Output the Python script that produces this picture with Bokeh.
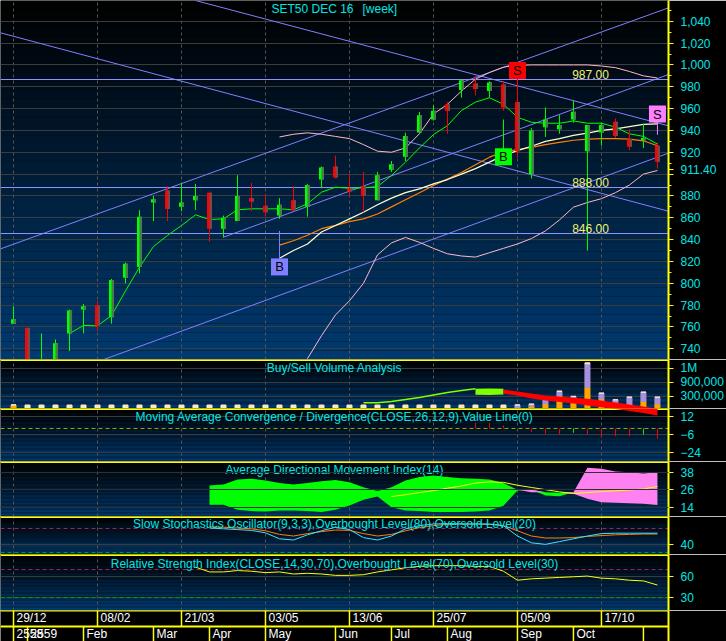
import numpy as np
from bokeh.plotting import figure
from bokeh.layouts import column
from bokeh.models import ColumnDataSource, FixedTicker, Label, NumeralTickFormatter, Range1d
from bokeh.core.properties import value
from bokeh.transform import dodge
from bokeh.embed import file_html
from bokeh.resources import INLINE

# ---------------- weekly SET50 futures, DEC 16 contract ----------------
week = list(range(47))
opens = [763, 759, 718, 726, 754, 776, 780, 769, 805, 815,
         874, 885, 870, 876, 883, 850, 857, 878, 871, 862,
         876, 870, 895, 907, 887, 889, 876, 904, 916, 938,
         950, 964, 977, 983, 976, 982, 966, 900, 943, 941,
         950, 921, 938, 948, 932, 931, 926]
highs = [779, 760, 754, 748.5, 776, 781, 784, 804, 819, 867,
         880, 889, 892, 891, 884, 862, 899, 892, 882, 878,
         889, 891, 907, 917, 900, 902, 902, 912, 938, 957,
         963, 966, 987, 990, 985, 985, 989, 942, 961, 954,
         967, 945, 947, 951, 941, 946, 929]
lows = [763, 712, 706, 722, 738, 754, 756, 763, 800, 809,
        857, 857, 866, 867, 838, 842, 857, 866, 861, 859,
        866, 861, 887, 896, 880, 865, 876, 902, 912, 938,
        949, 937, 970, 972, 970, 958, 915, 896, 934, 937,
        947, 830, 926, 933, 922, 924, 905]
closes = [767, 722, 728, 745, 775, 779, 761, 803, 818, 861,
          877, 868, 874, 880, 850, 860, 880, 875, 865, 872,
          867, 890, 906, 897, 884, 880, 899, 909, 935, 954,
          958, 958, 986, 978, 984, 961, 921, 940, 950, 945,
          957, 945, 945, 935, 925, 933, 911.4]

# moving averages / bands
ma_fast_x = list(range(4, 47))
ma_fast = [754, 761.4, 761, 770.5, 793, 814.8, 833.7, 843.8, 852.9, 862.7,
           858.4, 859, 867.3, 868.2, 868.2, 868.2, 867.3, 872.8, 883.4, 888,
           887, 887.4, 888.6, 898.7, 910.9, 924, 936.2, 944.4, 958.2, 965.9,
           969.9, 964, 952, 947.5, 946.6, 946.6, 948.7, 946.6, 946.6, 943,
           936.9, 934.5, 927.5]
long_x = list(range(19, 47))
ma_slow = [823, 830, 836, 847, 853, 859, 865, 872, 878, 883, 886.5, 891, 895, 900,
           905, 911, 917, 921.5, 925.5, 930, 932.5, 935.5, 937.5, 940, 941.5, 943.5,
           945.5, 946]
ma_mid = [835, 839, 844, 850, 853, 856.5, 859, 863.5, 870, 876.5, 883, 889.5, 895.5,
          901.5, 908.5, 915.5, 920.5, 922.5, 924.5, 927, 929, 931, 932, 932.5, 932.5,
          932, 930.5, 926]
bb_upper = [934, 936.5, 937.8, 936.5, 934.5, 932.5, 927, 921, 920, 924, 937, 955, 964,
            976, 987, 993, 998, 999.6, 1000, 1000, 1000, 1000, 1000, 999, 997.5, 994,
            990, 988]
bb_lower = [690, 712, 731, 752, 771, 784, 800, 826, 837, 842, 837.5, 832, 827, 825,
            824, 828, 832, 836, 841, 848, 858, 869.7, 874, 877.5, 883, 890, 900, 903.3]

# trend lines (week, price) -> (week, price)
trend_x0 = [-0.93, -0.93, 15.0, 13.0, -0.93]
trend_p0 = [831.5, 695.6, 842.2, 1059.0, 1029.4]
trend_x1 = [46.79, 46.79, 46.79, 46.79, 46.79]
trend_p1 = [1052.3, 919.2, 991.2, 944.2, 866.0]
levels = [987.0, 888.0, 846.0]

# buy / sell signals
sig_week = [19, 35, 36, 46]
sig_text = ["B", "B", "S", "S"]
sig_anchor = [848, 950, 988, 936]
sig_box = [815, 916, 995, 955]
sig_color = ["#8080ff", "#00ff00", "#ff0000", "#ff80ff"]

# buy/sell volume
vol_buy = [80000] + [0] * 36 + [50000, 110000, 317000, 235000, 525000, 235000, 150000,
                                110000, 175000, 110000]
vol_sell = [0] * 36 + [80000, 50000, 140000, 107000, 60000, 585000, 140000, 60000,
                       165000, 225000, 165000]
vol_flat = [0] + [80000] * 35 + [0] * 5 + [25000] + [0] * 5
bs_line_x = list(range(25, 34))
bs_line = [135000, 135000, 170000, 220000, 270000, 330000, 390000, 440000, 485000]
bs_up_x = [33, 34, 35]
bs_up_hi = [485000, 490000, 487000]
bs_up_lo = [335000, 330000, 345000]
bs_dn_x = list(range(35, 47))
bs_dn_hi = [467500, 417500, 367500, 317500, 292500, 260000, 235000, 192500, 142500,
            92500, 42500, -15000]
bs_dn_lo = [360000, 317500, 242500, 192500, 155000, 117500, 67500, 25000, -20000,
            -70000, -120000, -183000]

# MACD histogram
macd_x = [33, 34, 35, 37, 38, 39, 40, 41, 42, 43, 44, 45, 46]
macd_hist = [5.7, 5.7, 3, -3.3, -5.3, -6, -4.3, -6, -7.7, -7.7, -7.7, -6, -10]
macd_up = [False, False, False, False, False, False, True, False, False, False, False, True, False]

# ADX(14)
adx_x = list(range(14, 47))
di_plus = [28.9, 29.5, 33, 33.5, 32.3, 30.5, 29.6, 30.5, 31.8, 32.7, 31.1, 27.7, 25,
           27.7, 32.3, 34.6, 35.7, 34.6, 33.9, 33.5, 33, 30.5, 25.9, 24.3, 24.3, 23.8,
           23.2, 19.8, 17.4, 17, 16.7, 16.3, 15.5]
di_minus = [15.6, 15.6, 12.2, 11.3, 11, 11.7, 11.7, 11.3, 10.6, 12.2, 15.1, 19, 21.3,
            14, 11.7, 11.3, 10.6, 10.6, 10.6, 11, 11.7, 15, 25.5, 26, 22, 21.5,
            24.3, 41, 40.3, 38.5, 38, 37, 38]
adx_line_x = list(range(27, 47))
adx_line = [21.3, 22.5, 24, 25.3, 27, 28.5, 30.5, 31.3, 31, 29, 27.5, 26, 24.5, 23.3,
            24, 24.7, 25.2, 25.7, 26.5, 28.2]

# slow stochastics
sto_x = list(range(14, 47))
sto_k = [82, 80, 78, 76, 70, 55, 52, 65, 75, 84, 78, 58, 52, 62, 80, 88, 92, 93, 92,
         92, 92, 88, 62, 45, 41, 48, 55, 62, 68, 69, 69, 69, 69]
sto_d = [85, 84, 82, 80, 75, 66, 62, 68, 73, 77, 76, 68, 62, 66, 75, 83, 88, 91, 92,
         92, 91, 88, 75, 62, 57, 57, 58, 61, 63, 65, 66, 67, 67]

# RSI(14)
rsi_x = list(range(13, 47))
rsi = [74, 67, 67, 69, 68, 66, 67, 64, 65, 64, 62, 62, 63, 67, 70, 73, 75, 76, 76, 76,
       75, 75, 68, 55, 57, 58, 59, 60, 61, 58, 57, 55, 54, 48]

# date axis
date_ticks = [0, 6, 12, 18, 24, 30, 36, 42]
date_labels = ["29/12", "08/02", "21/03", "03/05", "13/06", "25/07", "05/09", "17/10"]
month_ticks = [0, 1, 5, 10, 14, 18, 23, 27, 31, 36, 40, 45]
month_labels = ["2558", "2559", "Feb", "Mar", "Apr", "May", "Jun", "Jul", "Aug", "Sep", "Oct", ""]

# ---------------- styling ----------------
FONT = "Liberation Sans"
X0, X1 = -0.93, 46.79
FRAME_W, AXIS_W = 668, 58
YELLOW = "#ffff00"
AXIS_TXT = "#00e6e6"
TITLE_TXT = "#00e6e6"
GRID = "#3c3c3c"
VGRID = "#555555"
TREND = "#8080ff"

xr = Range1d(X0, X1)


def panel(h, y0, y1, ticks, minor=None, overrides=None, fmt=None, grid_ticks=None):
    p = figure(frame_width=FRAME_W, frame_height=h, x_range=xr, y_range=Range1d(y0, y1),
               y_axis_location="right", toolbar_location=None, output_backend="svg",
               min_border_left=0, min_border_right=AXIS_W, min_border_top=0,
               min_border_bottom=0, background_fill_color="black",
               border_fill_color="black", outline_line_color=None, title=None)
    p.xaxis.visible = False
    p.xgrid.ticker = FixedTicker(ticks=date_ticks)
    p.xgrid.grid_line_color = VGRID
    p.xgrid.grid_line_dash = "3 3"
    p.ygrid.ticker = FixedTicker(ticks=grid_ticks or ticks)
    p.ygrid.grid_line_color = GRID
    ax = p.yaxis[0]
    ax.ticker = FixedTicker(ticks=ticks, minor_ticks=minor or [])
    if fmt:
        ax.formatter = NumeralTickFormatter(format=fmt)
    if overrides:
        ax.major_label_overrides = overrides
    ax.axis_line_color = YELLOW
    ax.axis_line_width = 2
    ax.major_tick_line_color = YELLOW
    ax.major_tick_out = 5
    ax.major_tick_in = 0
    ax.minor_tick_line_color = YELLOW
    ax.minor_tick_out = 3
    ax.minor_tick_in = 0
    ax.major_label_text_color = AXIS_TXT
    ax.major_label_text_font = FONT
    ax.major_label_text_font_size = "12px"
    ax.major_label_standoff = 7
    # vertical background gradient, black at the top to navy at the bottom
    n = 40
    edges = np.linspace(y0, y1, n + 1)
    cols = []
    for k in range(n):
        t = (k + 0.5) / n
        g = int(round(58 * (1 - t)))
        b = int(round(112 * (1 - t)))
        cols.append("#%02x%02x%02x" % (0, g, b))
    p.quad(left=X0, right=X1, bottom=edges[:-1], top=edges[1:], fill_color=cols,
           line_color=None, level="image")
    return p


def top_rule(p):
    p.hspan(y=[p.y_range.end], line_color=YELLOW, line_width=3)


def panel_title(p, text, y):
    p.add_layout(Label(x=(X0 + X1) / 2, y=y, text=text, text_align="center",
                       text_baseline="middle", text_color=TITLE_TXT, text_font=FONT,
                       text_font_size="12px"))


# ---------------- price panel ----------------
P0, P1, PRICE_H = 730.2, 1059.0, 359
price_ticks = list(range(740, 1041, 20))
# last-price tag sits just under the last close on the value axis
tag_pos = closes[-1] - 8.3 * (P1 - P0) / PRICE_H
tag_over = {t: "" for t in price_ticks if abs(t - tag_pos) < 6}
tag_over[tag_pos] = f"{closes[-1]:.2f}"
price = panel(PRICE_H, P0, P1, price_ticks + [tag_pos],
              minor=list(range(730, 1060, 10)), fmt="0,0", overrides=tag_over,
              grid_ticks=price_ticks)

for x0, p0, x1, p1 in zip(trend_x0, trend_p0, trend_x1, trend_p1):
    price.line([x0, x1], [p0, p1], line_color=TREND, line_width=1)
price.hspan(y=levels, line_color="#9090ff", line_width=1.2)

price.line(long_x, bb_upper, line_color="#ffb8c8", line_width=1)
price.line(long_x, bb_lower, line_color="#ffb8c8", line_width=1)
price.line(long_x, ma_mid, line_color="#ff8000", line_width=1.2)
price.line(long_x, ma_slow, line_color="#ffffd0", line_width=1.2)
price.line(ma_fast_x, ma_fast, line_color="#00ff00", line_width=1)

up = [c >= o for o, c in zip(opens, closes)]
csrc = ColumnDataSource(dict(
    x=week, h=highs, l=lows,
    top=[max(o, c) for o, c in zip(opens, closes)],
    bot=[min(o, c) for o, c in zip(opens, closes)],
    col=["#00ff00" if u else "#ff0000" for u in up],
    shade=["#4c7a4c" if u else "#7a4848" for u in up],
))
price.segment(x0="x", y0="l", x1="x", y1="h", line_color="col", line_width=1, source=csrc)
price.vbar(x="x", width=0.36, top="top", bottom="bot", fill_color="col", line_color=None,
           source=csrc)
price.vbar(x=dodge("x", 0.09, range=price.x_range), width=0.18, top="top", bottom="bot",
           fill_color="shade", line_color=None, source=csrc)

# signal flags
price.segment(x0=sig_week, y0=sig_anchor, x1=sig_week, y1=sig_box, line_color=sig_color,
              line_width=1)
price.rect(x=sig_week, y=sig_box, width=17, height=17, width_units="screen",
           height_units="screen", fill_color=sig_color, line_color=None)
price.text(x=sig_week, y=sig_box, text=sig_text, text_align="center",
           text_baseline="middle", text_color="black", text_font=value(FONT),
           text_font_size="13px")

for lv in levels:
    price.add_layout(Label(x=590, x_units="screen", y=lv, text=f"{lv:.2f}",
                           text_align="center", text_baseline="bottom",
                           text_color="#f0f070", text_font=FONT, text_font_size="12px"))

price.add_layout(Label(x=(X0 + X1) / 2, y=1051.6, x_offset=19, text="SET50 DEC 16",
                       text_align="right", text_baseline="middle", text_color=TITLE_TXT,
                       text_font=FONT, text_font_size="12px"))
price.add_layout(Label(x=(X0 + X1) / 2, y=1051.6, x_offset=28, text="[week]",
                       text_align="left", text_baseline="middle", text_color=TITLE_TXT,
                       text_font=FONT, text_font_size="12px"))

# ---------------- buy/sell volume ----------------
VOL0, VOL1 = -7500, 1217500
vol = panel(49, VOL0, VOL1, [300000, 650000, 1000000],
            overrides={300000: "300,000", 650000: "900,000", 1000000: "1M"})
top_rule(vol)
vsrc = ColumnDataSource(dict(x=week, buy=vol_buy, sell=vol_sell, flat=vol_flat))
vol.vbar_stack(["buy", "sell", "flat"], x="x", width=0.36,
               color=["#ffa500", "#a890e0", "#f8e8c8"], source=vsrc)
vol.line(bs_line_x, bs_line, line_color="#80ff00", line_width=1.5)
vol.varea(x=bs_up_x, y1=bs_up_lo, y2=bs_up_hi, fill_color="#80ff00")
vol.varea(x=bs_dn_x, y1=bs_dn_lo, y2=bs_dn_hi, fill_color="#ff0000")
panel_title(vol, "Buy/Sell Volume Analysis", 1005000)

# ---------------- MACD ----------------
macd = panel(53, -33, 20, [12, -6, -24])
top_rule(macd)
span_v = VOL1 - VOL0
macd.extra_y_ranges = {"vol": Range1d(VOL0 - span_v * 53 / 49, VOL0)}
macd.varea(x=bs_dn_x, y1=bs_dn_lo, y2=bs_dn_hi, fill_color="#ff0000", y_range_name="vol")
macd.hspan(y=[0], line_color="#a0a000", line_width=1, line_dash="4 3")
macd.segment(x0=macd_x, y0=[0] * len(macd_x), x1=macd_x, y1=macd_hist,
             line_color=["#00ff00" if u else "#ff0000" for u in macd_up], line_width=1)
panel_title(macd, "Moving Average Convergence / Divergence(CLOSE,26,12,9),Value Line(0)", 12)

# ---------------- ADX ----------------
adx = panel(55, 7.6, 45.3, [38, 26, 14])
adx.ygrid.level = "overlay"
adx.ygrid.grid_line_color = "#303030"
top_rule(adx)
dp = np.array(di_plus)
dm = np.array(di_minus)
adx.varea(x=adx_x, y1=dm, y2=np.maximum(dp, dm), fill_color="#00ff00")
adx.varea(x=adx_x, y1=dp, y2=np.maximum(dp, dm), fill_color="#ff80f0")
adx.line(adx_line_x, adx_line, line_color="#ffff00", line_width=1)
panel_title(adx, "Average Directional Movement Index(14)", 39.2)

# ---------------- slow stochastics ----------------
sto = panel(38, 15.75, 110.75, [40])
top_rule(sto)
sto.hspan(y=[80], line_color="#a0205a", line_width=1, line_dash="4 3")
sto.hspan(y=[20], line_color="#00a000", line_width=1, line_dash="4 3")
sto.line(sto_x, sto_d, line_color="#ff8000", line_width=1)
sto.line(sto_x, sto_k, line_color="#40e0ff", line_width=1)
panel_title(sto, "Slow Stochastics Oscillator(9,3,3),Overbought Level(80),Oversold Level(20)", 92.5)

# ---------------- RSI ----------------
rsip = panel(56, 11.2, 92.2, [60, 30])
top_rule(rsip)
rsip.hspan(y=[70], line_color="#a0205a", line_width=1, line_dash="4 3")
rsip.hspan(y=[30], line_color="#00a000", line_width=1, line_dash="4 3")
rsip.line(rsi_x, rsi, line_color="#ffff00", line_width=1)
panel_title(rsip, "Relative Strength Index(CLOSE,14,30,70),Overbought Level(70),Oversold Level(30)", 78.7)

# ---------------- date rows ----------------
dates = figure(frame_width=FRAME_W, frame_height=31, x_range=xr, y_range=Range1d(0, 2),
               y_axis_location="right", toolbar_location=None, output_backend="svg",
               min_border_left=0, min_border_right=AXIS_W, min_border_top=0,
               min_border_bottom=0, background_fill_color="black",
               border_fill_color="black", outline_line_color=None, title=None)
dates.xaxis.visible = False
dates.grid.visible = False
dax = dates.yaxis[0]
dax.ticker = FixedTicker(ticks=[])
dax.axis_line_color = YELLOW
dax.axis_line_width = 2
dates.hspan(y=[2, 1], line_color=YELLOW, line_width=2)
dates.segment(x0=date_ticks, y0=[1] * len(date_ticks), x1=date_ticks, y1=[2] * len(date_ticks),
              line_color=YELLOW, line_width=1.5)
dates.segment(x0=month_ticks, y0=[0] * len(month_ticks), x1=month_ticks,
              y1=[1] * len(month_ticks), line_color=YELLOW, line_width=1.5)
dates.text(x=date_ticks, y=[1.5] * len(date_ticks), text=date_labels, x_offset=3,
           text_baseline="middle", text_color="white", text_font=value(FONT),
           text_font_size="12px")
dates.text(x=month_ticks, y=[0.5] * len(month_ticks), text=month_labels, x_offset=3,
           text_baseline="middle", text_color="white", text_font=value(FONT),
           text_font_size="12px")

layout = column(price, vol, macd, adx, sto, rsip, dates, spacing=0)
open("out.html", "w").write(file_html(layout, INLINE))
